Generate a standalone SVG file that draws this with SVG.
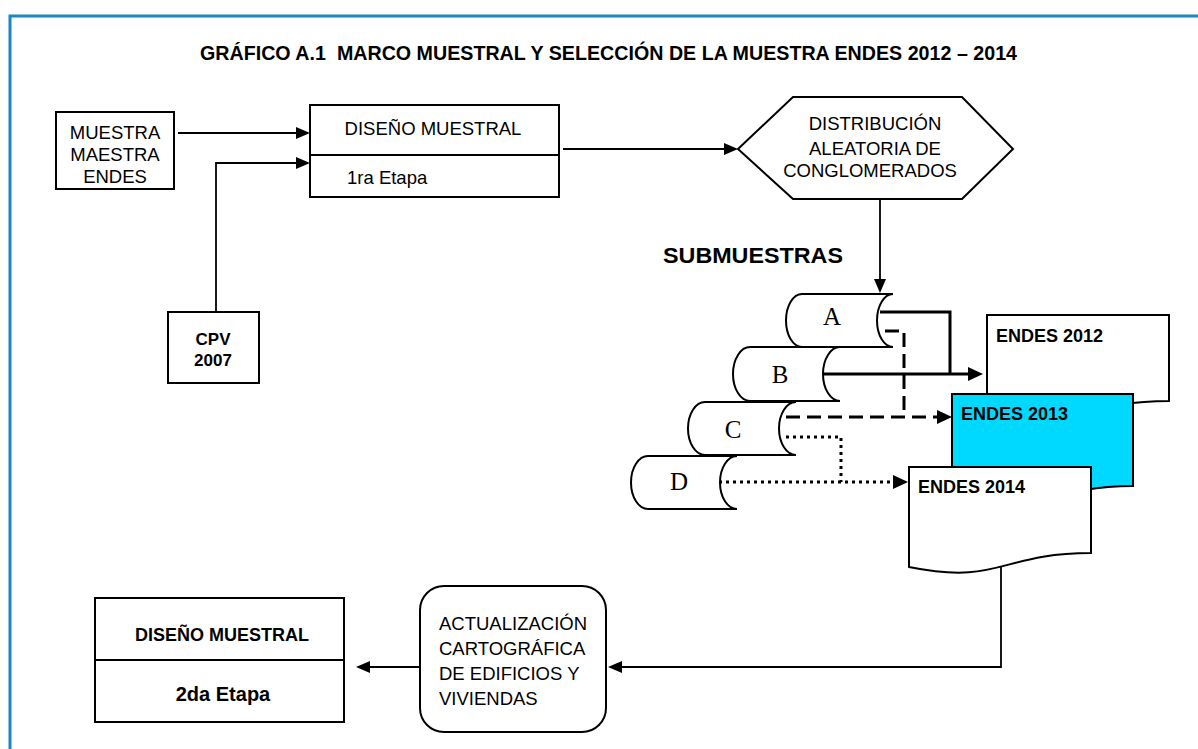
<svg xmlns="http://www.w3.org/2000/svg" width="1198" height="749" viewBox="0 0 1198 749">
<defs>
<style>
.bx{fill:#fff;stroke:#000;stroke-width:2}
.ln{fill:none;stroke:#000;stroke-width:1.8}
.thick{fill:none;stroke:#000;stroke-width:3}
.dash{fill:none;stroke:#000;stroke-width:3;stroke-dasharray:14 7}
.dot{fill:none;stroke:#000;stroke-width:3;stroke-dasharray:3 4}
.t{font-family:"Liberation Sans",Arial,sans-serif;font-size:18.5px;fill:#000}
.b{font-family:"Liberation Sans",Arial,sans-serif;font-weight:bold;fill:#000}
.s{font-family:"Liberation Serif","Times New Roman",serif;font-size:25px;fill:#000}
</style>
<marker id="ah" markerUnits="userSpaceOnUse" markerWidth="16" markerHeight="14" refX="4" refY="6" orient="auto"><path d="M0,0 L14,6 L0,12 Z" fill="#000"/></marker>
<marker id="ah2" markerUnits="userSpaceOnUse" markerWidth="17" markerHeight="16" refX="4" refY="7" orient="auto"><path d="M0,0 L15,7 L0,14 Z" fill="#000"/></marker>
</defs>
<rect x="10" y="16" width="1200" height="760" fill="#fff" stroke="#1a86c2" stroke-width="3"/>
<text class="b" x="200" y="60" font-size="21" textLength="817" lengthAdjust="spacingAndGlyphs" xml:space="preserve">GRÁFICO A.1  MARCO MUESTRAL Y SELECCIÓN DE LA MUESTRA ENDES 2012 – 2014</text>

<g id="connectors">
<path class="ln" d="M178,133 H300" marker-end="url(#ah)"/>
<path class="ln" d="M216,312 V163 H300" marker-end="url(#ah)"/>
<path class="ln" d="M563,149 H728" marker-end="url(#ah)"/>
<path class="ln" d="M880,199 V283" marker-end="url(#ah)"/>
<path class="thick" d="M880,312 H950 V374"/>
<path class="thick" d="M823,374 H972" marker-end="url(#ah2)"/>
<path class="dash" d="M885,331 H904 V417"/>
<path class="dash" d="M786,417 H941" marker-end="url(#ah2)"/>
<path class="dot" d="M786,437 H841 V482"/>
<path class="dot" d="M719,482 H897" marker-end="url(#ah2)"/>
<path class="ln" d="M1001,565 V667 H618" marker-end="url(#ah)"/>
<path class="ln" d="M420,667 H366" marker-end="url(#ah)"/>
</g>

<g id="muestra-maestra">
<rect class="bx" x="56" y="112" width="118" height="77"/>
<text class="t" text-anchor="middle" x="115" y="139">MUESTRA</text>
<text class="t" text-anchor="middle" x="115" y="161">MAESTRA</text>
<text class="t" text-anchor="middle" x="115" y="183">ENDES</text>
</g>

<g id="diseno1">
<rect class="bx" x="310" y="105" width="249" height="92"/>
<line class="bx" x1="310" y1="155" x2="559" y2="155"/>
<text class="t" text-anchor="middle" x="433" y="135">DISEÑO MUESTRAL</text>
<text class="t" x="347" y="184" font-size="21">1ra Etapa</text>
</g>

<g id="cpv">
<rect class="bx" x="168" y="312" width="91" height="71"/>
<text class="b" text-anchor="middle" x="213" y="345" font-size="17">CPV</text>
<text class="b" text-anchor="middle" x="213" y="366" font-size="17">2007</text>
</g>

<g id="distribucion">
<polygon class="bx" points="738,149 793,97 962,97 1013,149 962,199 793,199"/>
<text class="t" text-anchor="middle" x="875" y="130">DISTRIBUCIÓN</text>
<text class="t" text-anchor="middle" x="875" y="155">ALEATORIA DE</text>
<text class="t" text-anchor="middle" x="870" y="177">CONGLOMERADOS</text>
</g>

<text class="b" x="663" y="263" font-size="22" textLength="180" lengthAdjust="spacingAndGlyphs">SUBMUESTRAS</text>

<g id="scroll-A">
<path class="bx" d="M802,294 H893 A16,26.5 0 0 0 893,347 H802 A16,26.5 0 0 1 802,294 Z"/>
<text class="s" text-anchor="middle" x="832" y="325">A</text>
</g>
<g id="scroll-B">
<path class="bx" d="M750,347 H840 A17,27 0 0 0 840,401 H750 A17,27 0 0 1 750,347 Z"/>
<text class="s" text-anchor="middle" x="780" y="383">B</text>
</g>
<g id="scroll-C">
<path class="bx" d="M705,402 H796 A17,26.5 0 0 0 796,455 H705 A17,26.5 0 0 1 705,402 Z"/>
<text class="s" text-anchor="middle" x="733" y="438">C</text>
</g>
<g id="scroll-D">
<path class="bx" d="M648,456 H737 A17,26.5 0 0 0 737,509 H648 A17,26.5 0 0 1 648,456 Z"/>
<text class="s" text-anchor="middle" x="679" y="490">D</text>
</g>

<g id="endes2012">
<path class="bx" d="M987,315 H1169 V401 C1078,401 1078,434 987,415 Z"/>
<text class="b" x="996" y="342" font-size="18">ENDES 2012</text>
</g>
<g id="endes2013">
<path class="bx" style="fill:#00d9ff" d="M952,394 H1133 V486 C1042,486 1042,521 952,501 Z"/>
<text class="b" x="961" y="420" font-size="18">ENDES 2013</text>
</g>
<g id="endes2014">
<path class="bx" d="M909,467 H1091 V553 C1000,553 1000,585.5 909,567 Z"/>
<text class="b" x="918" y="493" font-size="18">ENDES 2014</text>
</g>

<g id="actualizacion">
<rect class="bx" x="420" y="586" width="186" height="146" rx="24" ry="24"/>
<text class="t" x="439" y="630">ACTUALIZACIÓN</text>
<text class="t" x="439" y="655">CARTOGRÁFICA</text>
<text class="t" x="439" y="680">DE EDIFICIOS Y</text>
<text class="t" x="439" y="705">VIVIENDAS</text>
</g>

<g id="diseno2">
<rect class="bx" x="95" y="598" width="249" height="124"/>
<line class="bx" x1="95" y1="660" x2="344" y2="660"/>
<text class="b" text-anchor="middle" x="222" y="641" font-size="18">DISEÑO MUESTRAL</text>
<text class="b" text-anchor="middle" x="223" y="701" font-size="20">2da Etapa</text>
</g>
</svg>
